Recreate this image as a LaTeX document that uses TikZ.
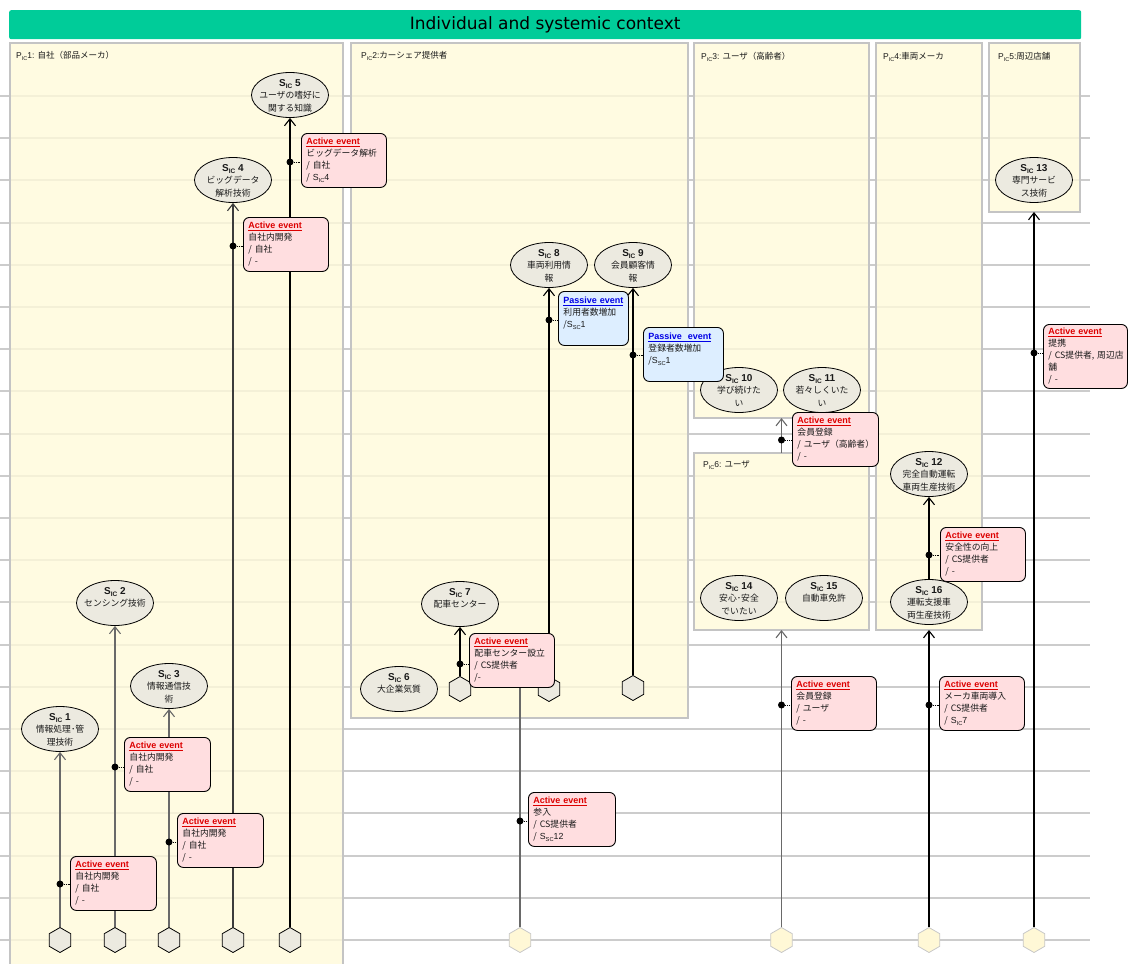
\documentclass[tikz,border=0pt]{standalone}
\usepackage{fontspec}
\usepackage{graphicx}
\setmainfont{Liberation Sans}
\newfontfamily\lat{Liberation Sans}
\newfontfamily\jp{Noto Sans CJK JP}
\newfontfamily\ttlfont{DejaVu Sans}
\usetikzlibrary{shapes.geometric,arrows.meta,calc}

\definecolor{titlegreen}{RGB}{0,204,153}
\definecolor{gridline}{RGB}{204,204,204}
\definecolor{panelline}{RGB}{196,196,196}
\definecolor{panelfill}{RGB}{255,250,218}
\definecolor{sicfill}{RGB}{236,234,224}
\definecolor{actfill}{RGB}{255,222,224}
\definecolor{pasfill}{RGB}{221,238,255}
\definecolor{actred}{RGB}{220,0,0}
\definecolor{pasblue}{RGB}{0,0,230}
\definecolor{hexfill}{RGB}{255,248,214}
\definecolor{hexline}{RGB}{200,200,200}
\definecolor{conngray}{RGB}{105,105,105}
\definecolor{conndark}{RGB}{60,60,60}
\definecolor{bodytext}{RGB}{25,25,25}

% lowered small index, as in S_IC or P_IC
\newcommand\lowidx[1]{\raisebox{-0.35ex}{\scalebox{0.65}{#1}}}
% event headings
\newcommand\acthd{{\color{actred}\lat\bfseries\fontsize{9}{12}\selectfont\underline{Active event}}}
\newcommand\pashd[1]{{\color{pasblue}\lat\bfseries\fontsize{9}{12}\selectfont\underline{#1}}}
% state ellipse with its caption
\newcommand\sicnode[4]{%
  \node[sic] (#1) at (#2) {};
  \node[sictext] (#1t) at ($(#1.center)+(0,-16)$)
    {{\lat\bfseries\fontsize{10}{12}\selectfont S\lowidx{IC} #3}\\#4};
}

\begin{document}
\begin{tikzpicture}[x=1pt, y=-1pt,
  grid/.style={draw=gridline, line width=1.6pt},
  panel/.style={draw=panelline, line width=1.5pt, fill=panelfill, fill opacity=0.8,
    anchor=north west, inner sep=0pt, outer sep=0pt},
  plabel/.style={anchor=west, inner sep=0pt, text=bodytext,
    font=\lat\fontsize{8.5}{10}\selectfont},
  sic/.style={ellipse, draw=black, line width=0.8pt, fill=sicfill,
    minimum width=77pt, minimum height=45pt, inner sep=0pt},
  sictext/.style={anchor=north, inner sep=0pt, align=center, text=bodytext,
    font=\jp\fontsize{8.8}{12.5}\selectfont},
  hexg/.style={regular polygon, regular polygon sides=6, shape border rotate=90,
    minimum size=25pt, inner sep=0pt, draw=black, line width=0.8pt, fill=sicfill},
  hexy/.style={hexg, draw=hexline, fill=hexfill},
  conn/.style={line width=1.1pt, draw=black},
  arr/.style={-{Straight Barb[length=7pt,width=11pt]}},
  evbox/.style={draw=black, line width=0.9pt, rounded corners=6pt, anchor=north west,
    align=left, inner xsep=5pt, inner ysep=0pt, minimum height=54pt, text=bodytext,
    font=\jp\fontsize{8.8}{12}\selectfont, text width=#1},
  act/.style={evbox=#1, fill=actfill},
  pas/.style={evbox=#1, fill=pasfill},
  dotp/.style={circle, fill=black, inner sep=0pt, minimum size=7pt},
  dotlink/.style={densely dotted, line width=0.9pt}
]
\useasboundingbox (0,0) rectangle (1128,964);

% title bar
\node[fill=titlegreen, rounded corners=2pt, anchor=north west, inner sep=0pt,
  minimum width=1072pt, minimum height=29pt,
  font=\ttlfont\fontsize{17}{20}\selectfont] (title) at (9,10)
  {Individual and systemic context};

% horizontal rulings
\foreach \k in {0,...,20}{
  \pgfmathsetmacro\yy{round(96+42.2*\k)}
  \draw[grid] (0,\yy) -- (1090,\yy);
}

% participants
\node[panel, minimum width=333pt, minimum height=930pt] (p1) at (10,43) {};
\node[panel, minimum width=337pt, minimum height=675pt] (p2) at (351,43) {};
\node[panel, minimum width=175pt, minimum height=375pt] (p3) at (694,43) {};
\node[panel, minimum width=106pt, minimum height=587pt] (p4) at (876,43) {};
\node[panel, minimum width=91pt, minimum height=169pt] (p5) at (989,43) {};
\node[panel, minimum width=175pt, minimum height=177pt] (p6) at (694,453) {};

\node[plabel] (p1l) at (16,56) {P\lowidx{IC}1: {\jp 自社（部品メーカ）}};
\node[plabel] (p2l) at (361,56) {P\lowidx{IC}2:{\jp カーシェア提供者}};
\node[plabel] (p3l) at (701,57) {P\lowidx{IC}3: {\jp ユーザ（高齢者）}};
\node[plabel] (p4l) at (883,57) {P\lowidx{IC}4:{\jp 車両メーカ}};
\node[plabel] (p5l) at (998,57) {P\lowidx{IC}5:{\jp 周辺店舗}};
\node[plabel] (p6l) at (703,465) {P\lowidx{IC}6: {\jp ユーザ}};

% states
\sicnode{s1}{60,729}{1}{情報処理･管\\理技術}
\sicnode{s2}{115,603}{2}{センシング技術}
\sicnode{s3}{169,686}{3}{情報通信技\\術}
\sicnode{s4}{233,180}{4}{ビッグデータ\\解析技術}
\sicnode{s5}{290,95}{5}{ユーザの嗜好に\\関する知識}
\sicnode{s6}{399,689}{6}{大企業気質}
\sicnode{s7}{460,604}{7}{配車センター}
\sicnode{s8}{549,265}{8}{車両利用情\\報}
\sicnode{s9}{633,265}{9}{会員顧客情\\報}
\sicnode{s10}{739,390}{10}{学び続けた\\い}
\sicnode{s11}{822,390}{11}{若々しくいた\\い}
\sicnode{s12}{929,474}{12}{完全自動運転\\車両生産技術}
\sicnode{s13}{1034,180}{13}{専門サービ\\ス技術}
\sicnode{s14}{739,598}{14}{安心･安全\\でいたい}
\sicnode{s15}{824,598}{15}{自動車免許}
\sicnode{s16}{929,602}{16}{運転支援車\\両生産技術}

% lifeline starts
\node[hexg] (hl1) at (60,940) {};
\node[hexg] (hl2) at (115,940) {};
\node[hexg] (hl3) at (169,940) {};
\node[hexg] (hl4) at (233,940) {};
\node[hexg] (hl5) at (290,940) {};
\node[hexg] (hm1) at (460,689) {};
\node[hexg] (hm2) at (549,689) {};
\node[hexg] (hm3) at (633,688) {};
\node[hexy] (hy1) at (520,940) {};
\node[hexy] (hy2) at (781.5,940) {};
\node[hexy] (hy3) at (929,940) {};
\node[hexy] (hy4) at (1034,940) {};

% transitions
\draw[conn, draw=conngray, arr] (hl1) -- (s1);
\draw[conn, draw=conngray, arr] (hl2) -- (s2);
\draw[conn, draw=conngray, arr] (hl3) -- (s3);
\draw[conn, draw=conndark, arr] (hl4) -- (s4);
\draw[conn, arr] (hl5) -- (s5);
\draw[conn, arr] (hm1) -- (s7);
\draw[conn, arr] (hm2) -- (s8);
\draw[conn, arr] (hm3) -- (s9);
\draw[conn, draw=conngray, arr] (hy2) -- (hy2 |- p6.south);
\draw[conn, draw=conngray, arr] (hy2 |- p6.north) -- (hy2 |- p3.south);
\draw[conn, arr] (hy3) -- (hy3 |- p4.south);
\draw[conn, arr] (s16) -- (s12);
\draw[conn, arr] (hy4) -- (hy4 |- p5.south);

% events
\node[act=76pt] (a1) at (70,856) {\acthd\\自社内開発\\/~自社\\/~-};
\node[act=76pt] (a2) at (124,737) {\acthd\\自社内開発\\/~自社\\/~-};
\node[act=76pt] (a3) at (177,813) {\acthd\\自社内開発\\/~自社\\/~-};
\node[act=75pt] (a4) at (243,217) {\acthd\\自社内開発\\/~自社\\/~-};
\node[act=75pt] (a5) at (301,133) {\acthd\\ビッグデータ解析\\/~自社\\/~{\lat S\lowidx{IC}4}};
\node[act=75pt] (a6) at (469,633) {\acthd\\配車センター設立\\/~CS提供者\\/-};
\node[act=77pt] (a7) at (528,792) {\acthd\\参入\\/~CS提供者\\/~{\lat S\lowidx{SC}12}};
\node[pas=60pt] (q1) at (558,291) {\pashd{Passive event}\\利用者数増加\\/{\lat S\lowidx{SC}1}\\\mbox{}};
\node[pas=70pt] (q2) at (643,327) {\pashd{Passive\ \ event}\\登録者数増加\\/{\lat S\lowidx{SC}1}\\\mbox{}};
\node[act=76pt] (a8) at (792,412) {\acthd\\会員登録\\\mbox{/ ユーザ（高齢者）}\\/~-};
\node[act=75pt] (a9) at (791,676) {\acthd\\会員登録\\/~ユーザ\\/~-};
\node[act=75pt] (a10) at (940,527) {\acthd\\安全性の向上\\/~CS提供者\\/~-};
\node[act=75pt] (a11) at (939,676) {\acthd\\メーカ車両導入\\/~CS提供者\\/~{\lat S\lowidx{IC}7}};
\node[act=74pt, minimum height=64pt] (a12) at (1043,324) {\acthd\\提携\\\mbox{/ CS提供者, 周辺店}\\舗\\/~-};

% line from the 参入 start up to the dispatch-centre event
\draw[conn, draw=conngray] (hy1) -- (hy1 |- a6.south);

% trigger points
\node[dotp] (d1) at (60,884) {};
\node[dotp] (d2) at (115,767) {};
\node[dotp] (d3) at (169,842) {};
\node[dotp] (d4) at (233,246) {};
\node[dotp] (d5) at (290,162) {};
\node[dotp] (d6) at (460,664) {};
\node[dotp] (d7) at (520,821) {};
\node[dotp] (d8) at (549,320) {};
\node[dotp] (d9) at (633,355) {};
\node[dotp] (d10) at (781.5,440) {};
\node[dotp] (d11) at (781.5,705) {};
\node[dotp] (d12) at (929,555) {};
\node[dotp] (d13) at (929,705) {};
\node[dotp] (d14) at (1034,353) {};

\draw[dotlink] (d1) -- (d1 -| a1.west);
\draw[dotlink] (d2) -- (d2 -| a2.west);
\draw[dotlink] (d3) -- (d3 -| a3.west);
\draw[dotlink] (d4) -- (d4 -| a4.west);
\draw[dotlink] (d5) -- (d5 -| a5.west);
\draw[dotlink] (d6) -- (d6 -| a6.west);
\draw[dotlink] (d7) -- (d7 -| a7.west);
\draw[dotlink] (d8) -- (d8 -| q1.west);
\draw[dotlink] (d9) -- (d9 -| q2.west);
\draw[dotlink] (d10) -- (d10 -| a8.west);
\draw[dotlink] (d11) -- (d11 -| a9.west);
\draw[dotlink] (d12) -- (d12 -| a10.west);
\draw[dotlink] (d13) -- (d13 -| a11.west);
\draw[dotlink] (d14) -- (d14 -| a12.west);
\end{tikzpicture}
\end{document}
